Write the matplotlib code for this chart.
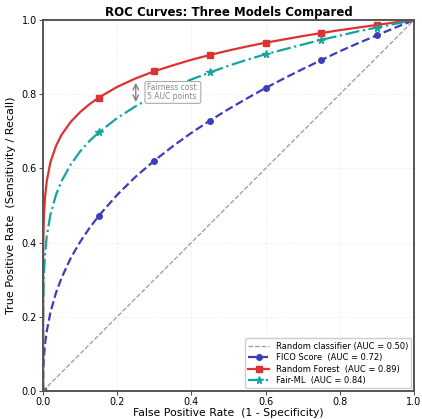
import matplotlib
matplotlib.use('Agg')
import matplotlib.pyplot as plt

# ROC points
fpr = [0, 0.0005, 0.002, 0.005, 0.01, 0.02, 0.035, 0.05, 0.075, 0.1, 0.125, 0.15,
       0.2, 0.25, 0.3, 0.35, 0.4, 0.45, 0.5, 0.55, 0.6, 0.65, 0.7, 0.75, 0.8,
       0.85, 0.9, 0.95, 1.0]
tpr_fico = [0, 0.049, 0.085, 0.123, 0.161, 0.212, 0.265, 0.305, 0.359, 0.402, 0.439, 0.472,
            0.529, 0.578, 0.621, 0.660, 0.696, 0.729, 0.760, 0.789, 0.817, 0.843, 0.868,
            0.892, 0.916, 0.938, 0.959, 0.980, 1.0]
tpr_rf = [0, 0.391, 0.464, 0.519, 0.566, 0.617, 0.661, 0.691, 0.726, 0.752, 0.773, 0.791,
          0.820, 0.843, 0.862, 0.878, 0.893, 0.906, 0.918, 0.929, 0.939, 0.948, 0.957,
          0.965, 0.973, 0.980, 0.987, 0.994, 1.0]
tpr_fair = [0, 0.236, 0.307, 0.365, 0.417, 0.476, 0.529, 0.566, 0.611, 0.646, 0.674, 0.697,
            0.736, 0.768, 0.796, 0.819, 0.840, 0.859, 0.877, 0.893, 0.908, 0.921, 0.934,
            0.947, 0.958, 0.970, 0.980, 0.990, 1.0]
marker_fpr = [0, 0.15, 0.3, 0.45, 0.6, 0.75, 0.9]
marks = [fpr.index(v) for v in marker_fpr]

fig, ax = plt.subplots(figsize=(4.22, 4.19), dpi=100)
fig.subplots_adjust(left=0.102, right=0.981, top=0.952, bottom=0.067)

ax.plot([0, 1], [0, 1], ls='--', color='#999999', lw=0.9, label='Random classifier (AUC = 0.50)')
ax.plot(fpr, tpr_fico, ls='--', color='#3d3dbb', lw=1.6, marker='o', ms=4,
        markevery=marks, label='FICO Score  (AUC = 0.72)')
ax.plot(fpr, tpr_rf, ls='-', color='#dc3232', lw=1.6, marker='s', ms=4,
        markevery=marks, label='Random Forest  (AUC = 0.89)')
ax.plot(fpr, tpr_fair, ls='-.', color='#15a3a0', lw=1.6, marker='*', ms=5.5,
        markevery=marks, label='Fair-ML  (AUC = 0.84)')

# fairness gap annotation
ax.annotate('', xy=(0.25, 0.838), xytext=(0.25, 0.772),
            arrowprops=dict(arrowstyle='<->', color='#777777', lw=0.9))
ax.text(0.28, 0.805, 'Fairness cost:\n5 AUC points', fontsize=5.5, color='#888888',
        va='center', ha='left', linespacing=1.0,
        bbox=dict(boxstyle='round,pad=0.25', fc='white', ec='#aaaaaa', lw=0.8))

ax.set_xlim(0, 1)
ax.set_ylim(0, 1)
ax.grid(True, color='#e4e4e4', lw=0.6, ls=':')
ax.tick_params(labelsize=7, length=3, width=0.8, pad=1.5, color='#555555')
ax.set_xlabel('False Positive Rate  (1 - Specificity)', fontsize=7.8, labelpad=0.5)
ax.set_ylabel('True Positive Rate  (Sensitivity / Recall)', fontsize=8, labelpad=4)
ax.set_title('ROC Curves: Three Models Compared', fontsize=8.5, fontweight='bold', pad=3)
for s in ax.spines.values():
    s.set_color('#555555')
    s.set_linewidth(1.4)
ax.legend(loc='lower right', fontsize=6, framealpha=0.95, edgecolor='#cccccc',
          handlelength=2.5, borderpad=0.4, labelspacing=0.3, borderaxespad=0.3)

fig.savefig('out.png', dpi=100)
